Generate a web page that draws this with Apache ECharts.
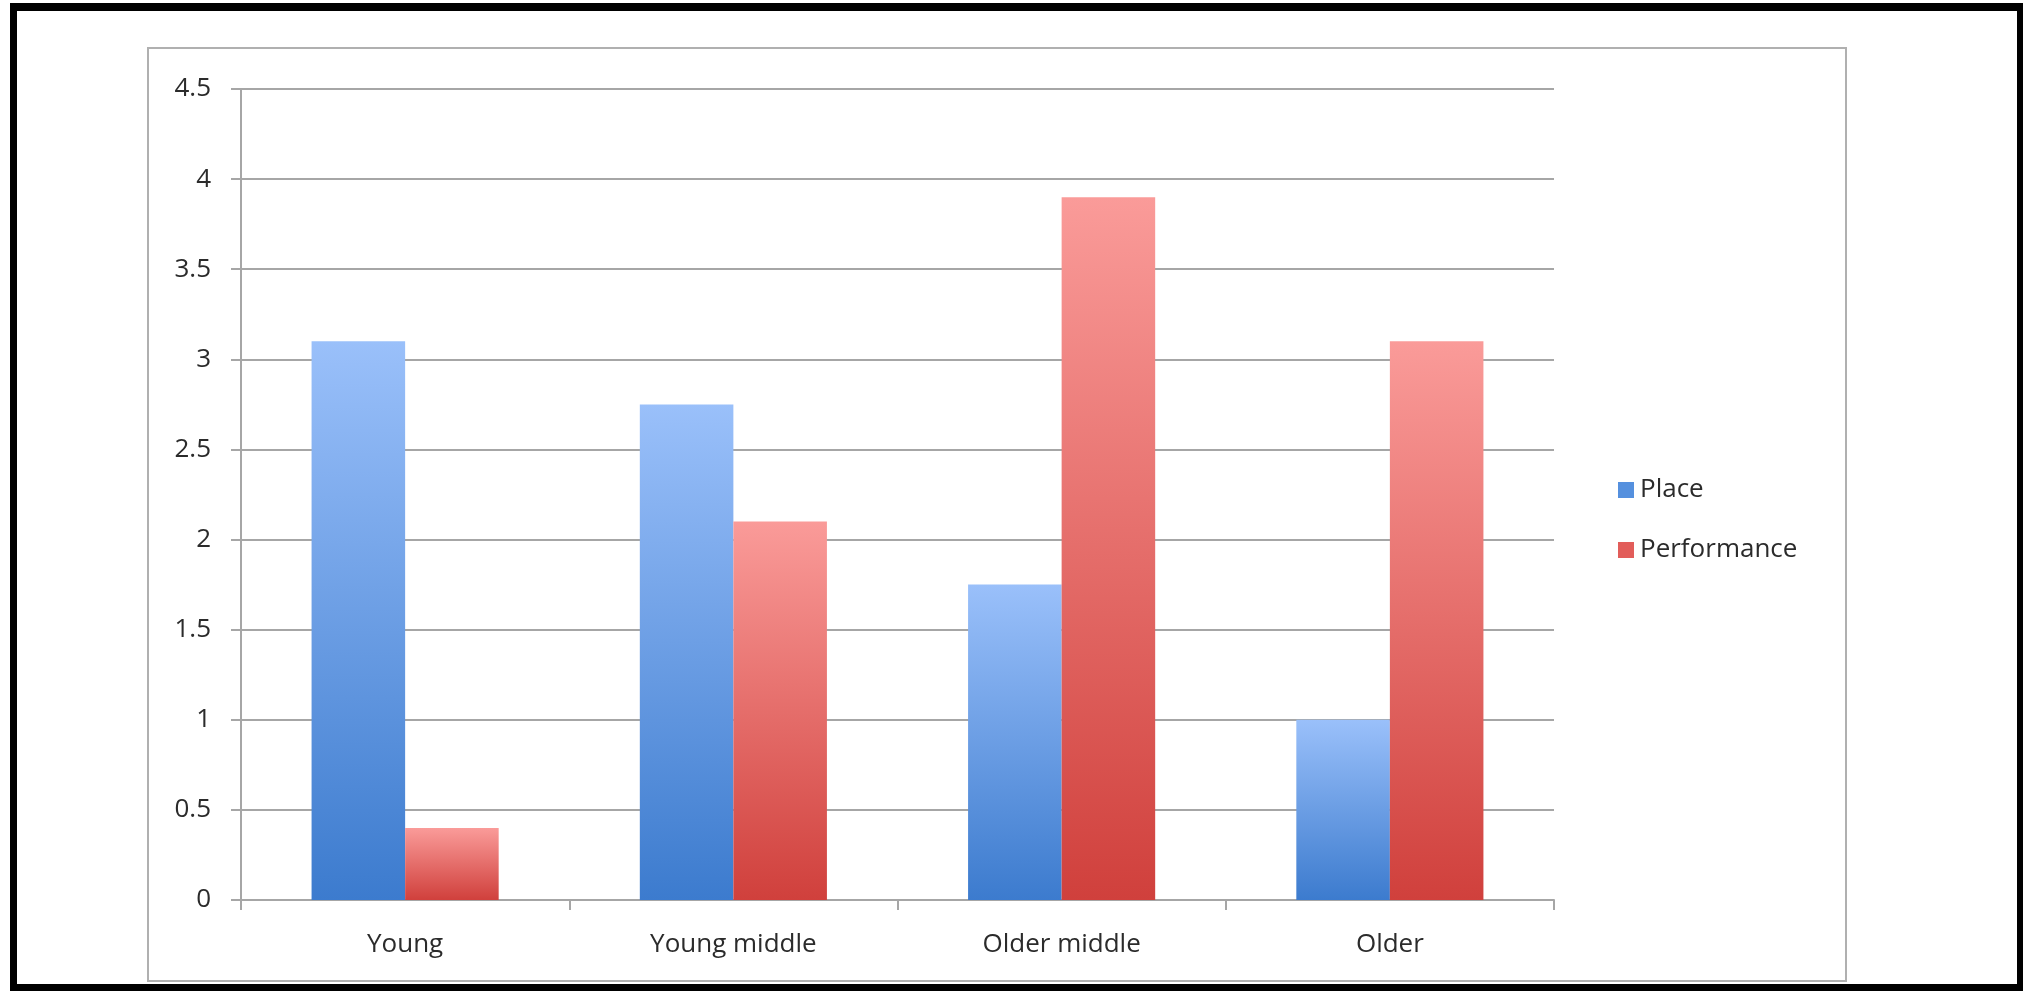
<!DOCTYPE html>
<html>
<head>
<meta charset="utf-8">
<script src="https://cdn.jsdelivr.net/npm/echarts@6/dist/echarts.min.js"></script>
<style>
  html, body { margin: 0; padding: 0; background: #ffffff; }
  #chart { width: 2023px; height: 991px; }
</style>
</head>
<body>
<div id="chart"></div>
<script>
// Age groups along the x axis
const categories = ['Young', 'Young middle', 'Older middle', 'Older'];
// Mean scores per age group
const placeValues = [3.1, 2.75, 1.75, 1.0];
const performanceValues = [0.4, 2.1, 3.9, 3.1];
const seriesNames = ['Place', 'Performance'];

const FONT = '"Open Sans", "Noto Sans", sans-serif';
const TEXT = '#2b2b2b';
const LINE = '#a6a6a6';

function vGrad(top, bottom) {
  return new echarts.graphic.LinearGradient(0, 0, 0, 1, [
    { offset: 0, color: top },
    { offset: 1, color: bottom }
  ]);
}

const chart = echarts.init(document.getElementById('chart'), null, { renderer: 'canvas' });

chart.setOption({
  backgroundColor: '#ffffff',
  animation: false,
  graphic: [
    // outer black frame
    { type: 'rect', shape: { x: 10, y: 3, width: 7, height: 988 }, style: { fill: '#000' } },
    { type: 'rect', shape: { x: 10, y: 3, width: 2013, height: 8 }, style: { fill: '#000' } },
    { type: 'rect', shape: { x: 2017, y: 3, width: 6, height: 988 }, style: { fill: '#000' } },
    { type: 'rect', shape: { x: 10, y: 984, width: 2013, height: 7 }, style: { fill: '#000' } },
    // chart area border
    { type: 'rect', shape: { x: 148, y: 48, width: 1698, height: 933 },
      style: { fill: 'none', stroke: '#b0b0b0', lineWidth: 2 } }
  ],
  grid: { left: 241, right: 469, top: 89, bottom: 91, containLabel: false },
  legend: {
    orient: 'vertical',
    left: 1613,
    top: 472,
    itemWidth: 16,
    itemHeight: 16,
    itemGap: 34,
    icon: 'rect',
    textStyle: { fontFamily: FONT, fontSize: 26, color: TEXT, padding: [0, 0, 0, 1] },
    data: [
      { name: seriesNames[0], itemStyle: { color: '#5590de' } },
      { name: seriesNames[1], itemStyle: { color: '#e25d5a' } }
    ]
  },
  xAxis: {
    type: 'category',
    data: categories,
    axisLine: { lineStyle: { color: LINE, width: 2 } },
    axisTick: { show: true, length: 10, lineStyle: { color: LINE, width: 2 } },
    axisLabel: { fontFamily: FONT, fontSize: 26, color: TEXT, margin: 32 }
  },
  yAxis: {
    type: 'value',
    min: 0,
    max: 4.5,
    interval: 0.5,
    axisLine: { show: true, lineStyle: { color: LINE, width: 2 } },
    axisTick: { show: true, length: 10, lineStyle: { color: LINE, width: 2 } },
    splitLine: { show: true, lineStyle: { color: LINE, width: 2 } },
    axisLabel: { fontFamily: FONT, fontSize: 26, color: TEXT, margin: 30 }
  },
  series: [
    {
      name: seriesNames[0],
      type: 'bar',
      data: placeValues,
      barGap: '0%',
      barCategoryGap: '43%',
      itemStyle: { color: vGrad('#9ac0fa', '#3c7bce') }
    },
    {
      name: seriesNames[1],
      type: 'bar',
      data: performanceValues,
      barGap: '0%',
      barCategoryGap: '43%',
      itemStyle: { color: vGrad('#fa9b99', '#d0403c') }
    }
  ]
});
</script>
</body>
</html>
